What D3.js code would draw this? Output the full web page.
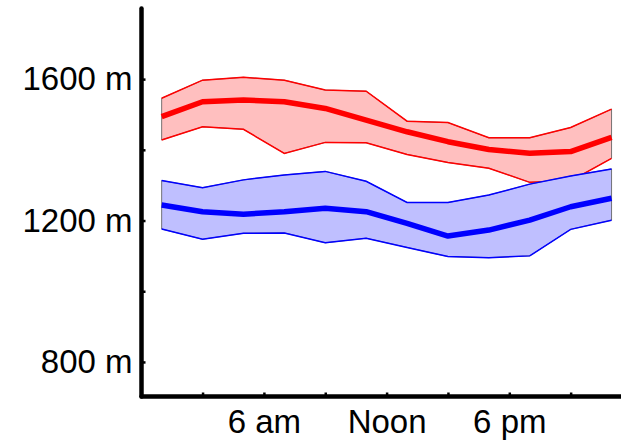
<!DOCTYPE html>
<html><head><meta charset="utf-8">
<script src="https://cdn.jsdelivr.net/npm/d3@7"></script>
<style>
html,body{margin:0;padding:0;background:#fff;}
svg{display:block;}
text{font-family:"Liberation Sans",Arial,sans-serif;}
</style></head>
<body>
<svg id="chart" width="621" height="443"></svg>
<script>
// Hours of day (data points every 2 hours)
const hours = [1,3,5,7,9,11,13,15,17,19,21,23];
// Red series (altitude, m)
const redMean  = [1494,1536,1541,1536,1517,1484,1451,1423,1401,1390,1395,1435];
const redUpper = [1546,1597,1605,1597,1569,1566,1481,1477,1434,1434,1463,1515];
const redLower = [1428,1465,1458,1390,1421,1420,1387,1364,1348,1308,1312,1376];
// Blue series (altitude, m)
const blueMean  = [1244,1225,1218,1225,1235,1225,1192,1156,1173,1201,1239,1263];
const blueUpper = [1313,1293,1315,1329,1339,1311,1251,1251,1272,1303,1326,1346];
const blueLower = [1176,1147,1164,1165,1137,1150,1124,1098,1095,1100,1175,1201];
// Axis ticks
const yTicks = [800,1000,1200,1400,1600];
const yLabels = {800:"800 m",1200:"1200 m",1600:"1600 m"};
const xTicks = [3,6,9,12,15,18,21];
const xLabels = {6:"6 am",12:"Noon",18:"6 pm"};

const svg = d3.select("#chart");
const x = d3.scaleLinear().domain([0,24]).range([141.2,632]);
const y = d3.scaleLinear().domain([700,1800]).range([397.3,8.4]);

function drawSeries(mean, upper, lower, color, fill){
  const area = d3.area().x((d,i)=>x(hours[i])).y0((d,i)=>y(lower[i])).y1((d,i)=>y(upper[i]));
  svg.append("path").datum(hours).attr("d",area)
     .attr("fill",fill).attr("stroke","#555").attr("stroke-width",0.8);
  const line = arr => d3.line().x((d,i)=>x(hours[i])).y(d=>y(d))(arr);
  svg.append("path").attr("d",line(upper)).attr("fill","none").attr("stroke",color).attr("stroke-width",1.5);
  svg.append("path").attr("d",line(lower)).attr("fill","none").attr("stroke",color).attr("stroke-width",1.5);
  svg.append("path").attr("d",line(mean)).attr("fill","none").attr("stroke",color)
     .attr("stroke-width",5.5).attr("stroke-linejoin","round");
}
drawSeries(redMean, redUpper, redLower, "#ff0000", "#ffbfbf");
drawSeries(blueMean, blueUpper, blueLower, "#0000ff", "#bfbfff");

// Y axis: ticks pointing inward
const yAxisG = svg.append("g").attr("transform","translate(141.5,0)")
  .call(d3.axisLeft(y).tickValues(yTicks).tickSizeInner(-4).tickSizeOuter(0).tickFormat(""));
const yLabG = svg.append("g").attr("transform","translate(141.5,0)")
  .call(d3.axisLeft(y).tickValues(Object.keys(yLabels).map(Number)).tickSize(0).tickPadding(9)
        .tickFormat(d=>yLabels[d]));
yLabG.select(".domain").remove();

// X axis
const xAxisG = svg.append("g").attr("transform","translate(0,396.5)")
  .call(d3.axisBottom(x).tickValues(xTicks).tickSizeInner(-4).tickSizeOuter(0).tickFormat(""));
const xLabG = svg.append("g").attr("transform","translate(0,396.5)")
  .call(d3.axisBottom(x).tickValues(Object.keys(xLabels).map(Number)).tickSize(0).tickPadding(13)
        .tickFormat(d=>xLabels[d]));
xLabG.select(".domain").remove();

[yAxisG,xAxisG].forEach(g=>{
  g.select(".domain").attr("stroke","#000").attr("stroke-width",4.5).attr("stroke-linecap","round");
  g.selectAll(".tick line").attr("stroke","#000").attr("stroke-width",2.5);
});
// extend bottom axis to the left axis corner
xAxisG.select(".domain").attr("d",`M141.5,0H${x(24)}`);
yAxisG.select(".domain").attr("d",`M0,${y(1800)}V396.5`);

[yLabG,xLabG].forEach(g=>g.selectAll("text").attr("font-size",33).attr("fill","#000")
  .attr("font-family","'Liberation Sans',Arial,sans-serif"));
</script>
</body></html>
